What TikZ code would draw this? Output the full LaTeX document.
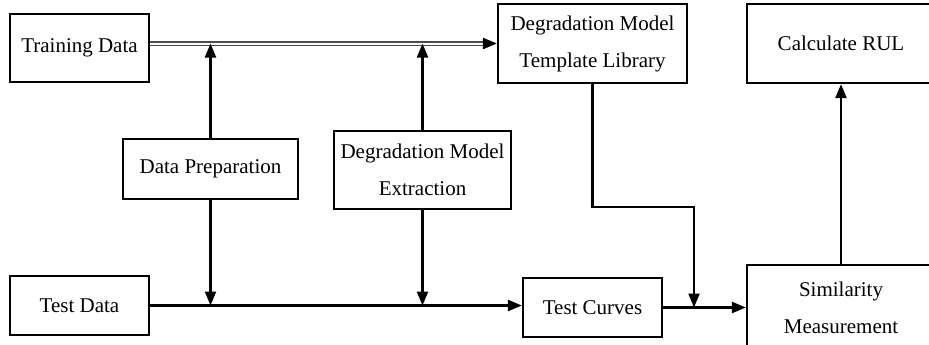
\documentclass[tikz,border=0pt]{standalone}
\usepackage{fontspec}
\setmainfont{Liberation Serif}
\usepackage{tikz}
\usetikzlibrary{arrows.meta}

\tikzset{
    block/.style={draw, line width=1.1pt, align=center, inner sep=0pt,
        font=\fontsize{10.5}{18.5}\selectfont},
    flow/.style={->, line width=1.1pt},
    feed/.style={double=white, draw=black!70, line width=0.7pt, double distance=1pt}
}

\begin{document}
\begin{tikzpicture}[x=0.5pt, y=-0.5pt, >={Triangle[length=7pt,width=5.5pt]}]
    \useasboundingbox (0,0) rectangle (929,344);
    \clip (0,0) rectangle (929,344);
    % blocks
    \node[block, minimum width=69.5pt, minimum height=34pt] (train) at (79.5,48) {Training Data};
    \node[block, minimum width=94.5pt, minimum height=39.5pt] (tmpl) at (592.5,43.5) {Degradation Model\\Template Library};
    \node[block, minimum width=94pt, minimum height=39.5pt] (rul) at (841,43.5) {Calculate RUL};
    \node[block, minimum width=87.5pt, minimum height=30pt] (prep) at (210.5,169) {Data Preparation};
    \node[block, minimum width=88.5pt, minimum height=39pt] (extr) at (422.5,170) {Degradation Model\\Extraction};
    \node[block, minimum width=69.5pt, minimum height=29.5pt] (test) at (79.5,305.5) {Test Data};
    \node[block, minimum width=69.5pt, minimum height=29.5pt] (curves) at (592.5,307.5) {Test Curves};
    \node[block, minimum width=94pt, minimum height=43pt] (sim) at (841,308) {Similarity\\Measurement};
    \coordinate (kink) at (694,207);
    % training path
    \draw[feed] (train.east |- tmpl.west) -- ([xshift=-6pt]tmpl.west);
    \draw[flow] ([xshift=-6.5pt]tmpl.west) -- (tmpl.west);
    \draw[flow] (prep.north) -- (prep.north |- tmpl.west);
    \draw[flow] (extr.north) -- (extr.north |- tmpl.west);
    % test path
    \draw[flow] (test.east) -- (test.east -| curves.west);
    \draw[flow] (prep.south) -- (prep.south |- test.east);
    \draw[flow] (extr.south) -- (extr.south |- test.east);
    \draw[flow] (curves.east) -- (curves.east -| sim.west);
    \draw[flow] (tmpl.south) |- (kink) -- (kink |- curves.east);
    \draw[flow] (sim.north) -- (rul.south);
\end{tikzpicture}
\end{document}
